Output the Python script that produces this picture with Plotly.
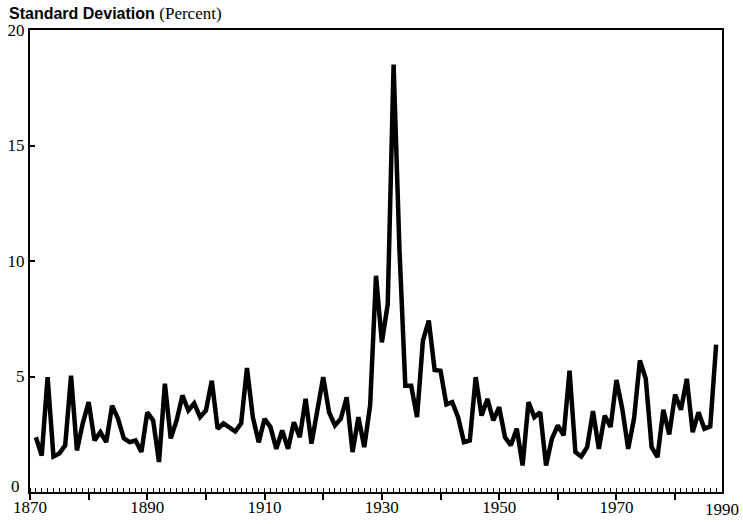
import plotly.graph_objects as go

years = list(range(1871, 1988))
std_dev = [
    2.37, 1.58, 4.97, 1.54, 1.67, 2.02, 5.04, 1.80, 2.97, 3.89,   # 1871-1880
    2.23, 2.59, 2.16, 3.74, 3.18, 2.32, 2.16, 2.23, 1.73, 3.45,   # 1881-1890
    3.10, 1.30, 4.69, 2.32, 3.10, 4.18, 3.53, 3.84, 3.24, 3.53,   # 1891-1900
    4.82, 2.74, 2.97, 2.81, 2.62, 2.97, 5.37, 3.24, 2.15, 3.17,   # 1901-1910
    2.81, 1.87, 2.66, 1.87, 3.02, 2.37, 4.03, 2.09, 3.67, 4.97,   # 1911-1920
    3.45, 2.88, 3.17, 4.10, 1.73, 3.24, 1.94, 3.75, 9.36, 6.48,   # 1921-1930
    8.13, 18.5, 10.5, 4.60, 4.60, 3.24, 6.55, 7.42, 5.28, 5.25,   # 1931-1940
    3.79, 3.89, 3.24, 2.16, 2.23, 4.97, 3.31, 4.03, 3.10, 3.67,   # 1941-1950
    2.37, 2.02, 2.74, 1.15, 3.89, 3.24, 3.45, 1.15, 2.31, 2.88,   # 1951-1960
    2.45, 5.25, 1.73, 1.54, 1.94, 3.50, 1.87, 3.31, 2.81, 4.85,   # 1961-1970
    3.60, 1.87, 3.17, 5.69, 4.90, 1.94, 1.51, 3.56, 2.49, 4.22,   # 1971-1980
    3.56, 4.90, 2.59, 3.45, 2.74, 2.84, 6.38,                     # 1981-1987
]

x_tickvals = list(range(1870, 1990, 10))
x_ticktext = ["1870", "", "1890", "", "1910", "", "1930", "", "1950", "", "1970", ""]
y_tickvals = [0, 5, 10, 15, 20]
y_ticktext = ["", "5", "10", "15", "20"]

serif = "Liberation Serif"

fig = go.Figure()
fig.add_trace(go.Scatter(
    x=years, y=std_dev, mode="lines",
    line=dict(color="black", width=4.5),
    hoverinfo="skip",
))

fig.update_layout(
    width=743, height=524,
    margin=dict(l=30, r=21, t=30, b=32),
    plot_bgcolor="white", paper_bgcolor="white",
    showlegend=False,
    font=dict(family=serif, size=17, color="black"),
    xaxis=dict(
        range=[1870, 1988], showgrid=False, zeroline=False, automargin=False,
        showline=True, linecolor="black", linewidth=2, mirror=True,
        tickmode="array", tickvals=x_tickvals, ticktext=x_ticktext,
        ticks="outside", ticklen=6, tickwidth=1.5, tickcolor="black",
        minor=dict(ticks="inside", dtick=1, tick0=1870, ticklen=4,
                   tickwidth=1, tickcolor="black"),
        tickfont=dict(family=serif, size=17, color="black"),
        ticklabelstandoff=-7,
    ),
    yaxis=dict(
        range=[0, 20], showgrid=False, zeroline=False, automargin=False,
        showline=True, linecolor="black", linewidth=2, mirror=True,
        tickmode="array", tickvals=y_tickvals, ticktext=y_ticktext,
        ticks="inside", ticklen=5, tickwidth=1.5, tickcolor="black",
        tickfont=dict(family=serif, size=17, color="black"),
        ticklabelstandoff=0,
    ),
    annotations=[
        dict(
            text="<b>Standard Deviation</b> <span style='font-family:Liberation Serif;font-size:17px'>(Percent)</span>",
            xref="paper", yref="paper", x=-23/692, y=1, yshift=17,
            xanchor="left", yanchor="middle", showarrow=False,
            font=dict(family="Liberation Sans", size=16, color="black"),
        ),
        dict(
            text="0", xref="paper", yref="y", x=-8/692, y=0,
            xanchor="right", yanchor="middle", yshift=6, showarrow=False,
            font=dict(family=serif, size=17, color="black"),
        ),
        dict(
            text="1990", xref="x", yref="paper", x=1988, y=0,
            xanchor="center", yanchor="top", yshift=-6, showarrow=False,
            font=dict(family=serif, size=17, color="black"),
        ),
    ],
)

fig.write_html(
    "out.html",
    config={"displayModeBar": False},
    post_script="document.body.style.margin='0';document.body.style.overflow='hidden';",
)
